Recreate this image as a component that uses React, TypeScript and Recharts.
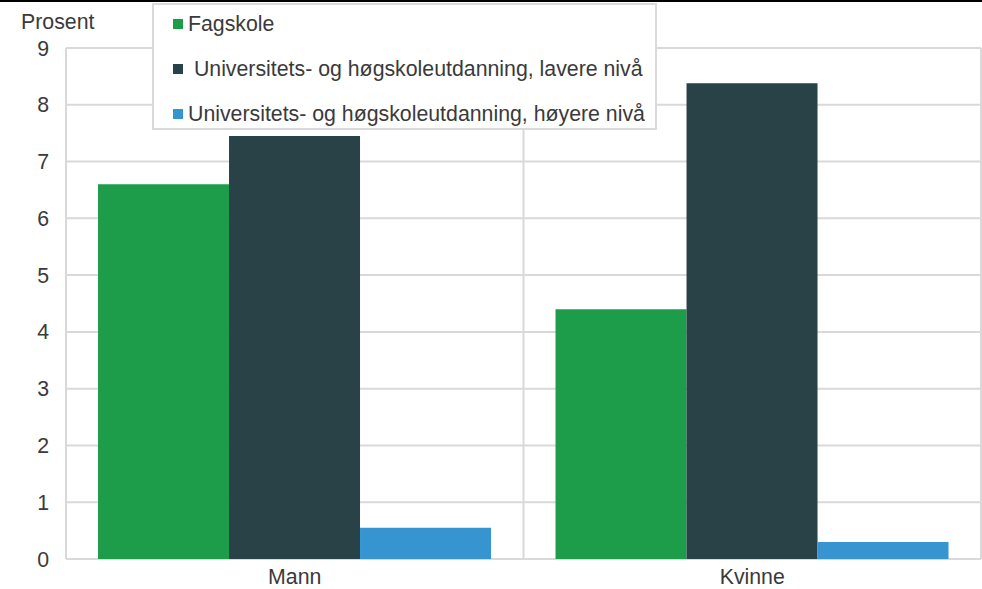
import { BarChart, Bar, XAxis, YAxis, CartesianGrid, Legend } from "recharts";

const categories = ["Mann", "Kvinne"];
const fagskole = [6.6, 4.4];
const lavere = [7.45, 8.38];
const hoyere = [0.55, 0.3];
const yTicks = [0, 1, 2, 3, 4, 5, 6, 7, 8, 9];

const seriesNames = [
  "Fagskole",
  " Universitets- og høgskoleutdanning, lavere nivå",
  "Universitets- og høgskoleutdanning, høyere nivå",
];

const colors = ["#1d9c4a", "#284248", "#3694d1"];

const font = "'Liberation Sans', Arial, sans-serif";
const fontSize = 21.3;
const textColor = "#3a3a3a";

const data = categories.map((name, i) => ({
  name,
  fagskole: fagskole[i],
  lavere: lavere[i],
  hoyere: hoyere[i],
}));

function LegendBox() {
  return (
    <div
      style={{
        width: 501,
        height: 123,
        border: "2px solid #dadada",
        background: "#fff",
        boxSizing: "content-box",
        position: "relative",
      }}
    >
      {seriesNames.map((name, i) => (
        <div
          key={name}
          style={{
            position: "absolute",
            left: 19,
            top: 19 + i * 45 - 12,
            height: 24,
            display: "flex",
            alignItems: "center",
            fontFamily: font,
            fontSize,
            color: textColor,
            whiteSpace: "pre",
          }}
        >
          <span
            style={{
              display: "inline-block",
              width: 10,
              height: 10,
              background: colors[i],
              marginRight: 5,
            }}
          />
          <span>{name}</span>
        </div>
      ))}
    </div>
  );
}

export default function App() {
  return (
    <div
      style={{
        position: "absolute",
        left: 0,
        top: 0,
        width: 982,
        height: 589,
        background: "#fff",
        overflow: "hidden",
      }}
    >
      <div
        style={{
          position: "absolute",
          left: 0,
          top: 0,
          width: 982,
          height: 2,
          background: "#000",
        }}
      />
      <div
        style={{
          position: "absolute",
          left: 21,
          top: 12,
          fontFamily: font,
          fontSize,
          lineHeight: "21px",
          color: textColor,
        }}
      >
        Prosent
      </div>
      <BarChart
        width={982}
        height={589}
        data={data}
        margin={{ top: 48, right: 1, left: 0, bottom: 0 }}
        barCategoryGap="7%"
        barGap={0}
      >
        <CartesianGrid
          stroke="#d9d9d9"
          strokeWidth={2}
          verticalCoordinatesGenerator={({ offset }: any) => [
            offset.left,
            offset.left + offset.width / 2,
            offset.left + offset.width,
          ]}
        />
        <XAxis
          dataKey="name"
          axisLine={false}
          tickLine={false}
          tickSize={0}
          tickMargin={10}
          height={30}
          tick={{ fill: textColor, fontSize, fontFamily: font }}
        />
        <YAxis
          domain={[0, 9]}
          ticks={yTicks}
          axisLine={false}
          tickLine={false}
          tickSize={0}
          tickMargin={17}
          width={66}
          tick={{ fill: textColor, fontSize, fontFamily: font }}
        />
        <Legend
          layout="horizontal"
          verticalAlign="middle"
          align="center"
          content={() => <LegendBox />}
          wrapperStyle={{ position: "absolute", left: 152, top: 3, width: 505, height: 127 }}
        />
        <Bar dataKey="fagskole" name={seriesNames[0]} fill={colors[0]} isAnimationActive={false} />
        <Bar dataKey="lavere" name={seriesNames[1]} fill={colors[1]} isAnimationActive={false} />
        <Bar dataKey="hoyere" name={seriesNames[2]} fill={colors[2]} isAnimationActive={false} />
      </BarChart>
    </div>
  );
}
